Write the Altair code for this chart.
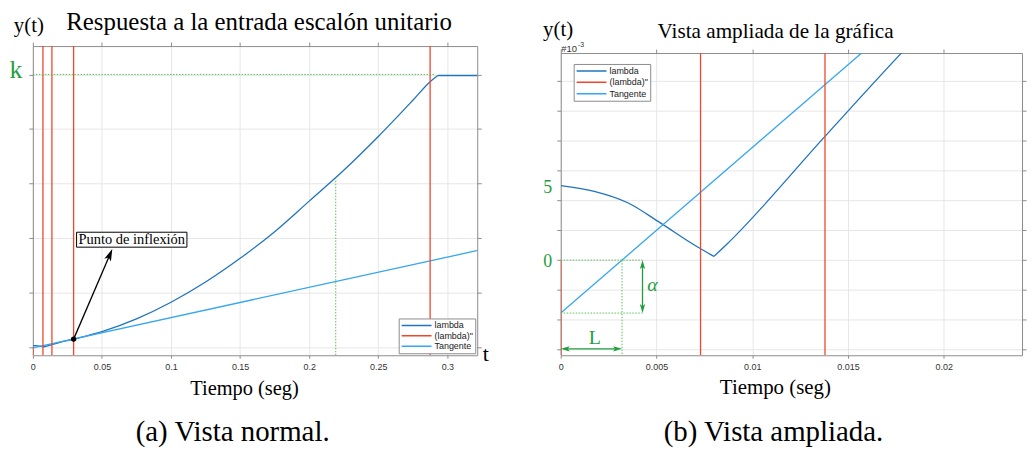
import altair as alt
import pandas as pd

# ---------------- data ----------------
lambda_t = [0.0, 0.0018, 0.0035, 0.0052, 0.0070, 0.0080, 0.0087, 0.0138, 0.0178,
            0.0295, 0.050, 0.075, 0.100, 0.125, 0.150, 0.175, 0.200,
            0.225, 0.250, 0.275, 0.2875, 0.2930, 0.3220]
lambda_y = [0.0050, 0.0046, 0.00385, 0.0025, 0.0010, 0.00025, 0.0011, 0.0083, 0.0139,
            0.0285, 0.056, 0.103, 0.164, 0.238, 0.325, 0.423, 0.535,
            0.648, 0.772, 0.905, 0.973, 0.996, 0.996]
lambda_corners = [0.0080, 0.2930]
tangent_t = [0.0, 0.322]
tangent_y = [-0.00355, 0.3539]
red_t = [0.0, 0.0073, 0.0138, 0.0295, 0.2875]
inflexion_t = [0.0295]
inflexion_y = [0.0285]
k_value = 1.0
t_marker = 0.2192
lambda_at_marker = 0.617
L_value = 0.0032
alpha_value = -0.00355
series = ["lambda", '(lambda)"', "Tangente"]
colors = ["#1f74c0", "#f2462a", "#35a6f0"]

ticks_a_x = [0, 0.05, 0.1, 0.15, 0.2, 0.25, 0.3]
ticks_a_y = [0, 0.2, 0.4, 0.6, 0.8, 1.0]
ticks_b_x = [0, 0.005, 0.01, 0.015, 0.02]
ticks_b_y = [-0.006, -0.004, -0.002, 0, 0.002, 0.004, 0.006, 0.008, 0.010, 0.012]

# ---------------- styles ----------------
GRID = "#e6e6e6"
FRAME = "#8c8c8c"
GREEN = "#1f9e3e"
GREEN_LINE = "#5cbf5c"
SERIF = "Liberation Serif"
SANS = "Liberation Sans"
HEAD = "M0,-1L0.6,1L0,0.55L-0.6,1Z"

color_scale = alt.Scale(domain=series, range=colors)

# lambda split at its corners so that the smooth interpolation keeps them sharp
_rows = []
for _t, _y in zip(lambda_t, lambda_y):
    _p = sum(_t > c for c in lambda_corners)
    _rows.append((_t, _y, series[0], _p))
    if _t in lambda_corners:
        _rows.append((_t, _y, series[0], _p + 1))
for _t, _y in zip(tangent_t, tangent_y):
    _rows.append((_t, _y, series[2], 0))
lines_df = pd.DataFrame(_rows, columns=["t", "y", "serie", "pieza"])


def one(t, y, **extra):
    d = {"t": [t], "y": [y]}
    d.update({k: [v] for k, v in extra.items()})
    return pd.DataFrame(d)


def enc(ch, xs, ys):
    return ch.encode(x=alt.X("t:Q", scale=xs, axis=None),
                     y=alt.Y("y:Q", scale=ys, axis=None))


def note(xs, ys, t, y, text, **kw):
    base = dict(font=SERIF, align="center", baseline="alphabetic", color="black")
    base.update(kw)
    return enc(alt.Chart(one(t, y)).mark_text(text=text, **base), xs, ys)


def seg(xs, ys, t1, y1, t2, y2, **kw):
    return alt.Chart(one(t1, y1, t2=t2, y2=y2)).mark_rule(**kw).encode(
        x=alt.X("t:Q", scale=xs, axis=None), y=alt.Y("y:Q", scale=ys, axis=None),
        x2="t2:Q", y2="y2:Q")


def head(xs, ys, t, y, angle, size, color):
    return enc(alt.Chart(one(t, y)).mark_point(shape=HEAD, angle=angle, size=size,
                                               filled=True, color=color, opacity=1,
                                               strokeWidth=0), xs, ys)


def base_layers(xdom, ydom, xticks, yticks, legend):
    xs = alt.Scale(domain=xdom, nice=False, zero=False)
    ys = alt.Scale(domain=ydom, nice=False, zero=False)
    red_df = pd.DataFrame({"t": red_t[1:], "serie": series[1]})
    red0_df = pd.DataFrame({"t": [red_t[0]], "y": [ydom[0]], "y2": [0.0], "serie": [series[1]]})

    axb = alt.Axis(orient="bottom", values=xticks, format="~g", title=None, grid=True,
                   gridColor=GRID, domainColor=FRAME, tickColor=FRAME, tickSize=3,
                   labelFont=SANS, labelFontSize=9, labelColor="#333", labelPadding=4,
                   labelFlush=False, labelOverlap=False)
    axl = alt.Axis(orient="left", values=yticks, title=None, grid=True, gridColor=GRID,
                   domainColor=FRAME, tickColor=FRAME, tickSize=4, labels=False)
    axt = alt.Axis(orient="top", values=xticks, title=None, grid=False,
                   domainColor=FRAME, tickColor=FRAME, tickSize=4, labels=False)
    axr = alt.Axis(orient="right", values=yticks, title=None, grid=False,
                   domainColor=FRAME, tickColor=FRAME, tickSize=4, labels=False)

    col = alt.Color("serie:N", scale=color_scale, legend=legend)

    frame_df = pd.DataFrame({"t": [xdom[0]], "y": [ydom[0]]})
    frame = alt.Chart(frame_df).mark_point(opacity=0, clip=True).encode(
        x=alt.X("t:Q", scale=xs, axis=axt), y=alt.Y("y:Q", scale=ys, axis=axr))
    reds = alt.Chart(red_df).mark_rule(strokeWidth=1.3, clip=True).encode(
        x=alt.X("t:Q", scale=xs, axis=None), color=col)
    red0 = alt.Chart(red0_df).mark_rule(strokeWidth=1.3, clip=True).encode(
        x=alt.X("t:Q", scale=xs, axis=None), y=alt.Y("y:Q", scale=ys, axis=None),
        y2="y2:Q", color=col)
    lines = alt.Chart(lines_df).mark_line(strokeWidth=1.3, clip=True,
                                          interpolate="monotone").encode(
        x=alt.X("t:Q", scale=xs, axis=axb), y=alt.Y("y:Q", scale=ys, axis=axl),
        color=col, detail="pieza:N")
    return xs, ys, [lines, frame, reds, red0]


legend_common = dict(title=None, orient="none", fillColor="white", strokeColor=FRAME,
                     padding=2, symbolType="stroke", symbolSize=900, symbolStrokeWidth=1.5,
                     clipHeight=10, labelFont=SANS, labelFontSize=9, labelColor="#222",
                     labelOffset=2, labelLimit=200)

# ---------------- panel (a) ----------------
W1, H1 = 447, 311
xdom_a = [0, 0.3216]
ydom_a = [-0.0307, 1.104]
xa, ya, layers_a = base_layers(xdom_a, ydom_a, ticks_a_x, ticks_a_y,
                               alt.Legend(legendX=368, legendY=274, rowPadding=0.5,
                                          **legend_common))
layers_a += [
    seg(xa, ya, 0, k_value, 0.2914, k_value, color=GREEN_LINE, strokeDash=[1.5, 1.5], strokeWidth=1),
    seg(xa, ya, t_marker, ydom_a[0], t_marker, lambda_at_marker, color=GREEN_LINE,
        strokeDash=[1.5, 1.5], strokeWidth=1),
    seg(xa, ya, inflexion_t[0], inflexion_y[0], 0.0558, 0.3387, color="black", strokeWidth=1.3),
    head(xa, ya, 0.0558, 0.3387, 23, 144, "black"),
    enc(alt.Chart(pd.DataFrame({"t": inflexion_t, "y": inflexion_y})).mark_circle(
        size=30, color="black", opacity=1), xa, ya),
    alt.Chart(one(0.03165, 0.4208, t2=0.1115, y2=0.366)).mark_rect(
        fill="white", stroke="black", strokeWidth=1).encode(
        x=alt.X("t:Q", scale=xa, axis=None), y=alt.Y("y:Q", scale=ya, axis=None),
        x2="t2:Q", y2="y2:Q"),
    note(xa, ya, 0.0716, 0.377, "Punto de inflexión", fontSize=14.5),
    note(xa, ya, 0.1637, 1.1635, "Respuesta a la entrada escalón unitario", fontSize=25),
    note(xa, ya, -0.0029, 1.157, "y(t)", fontSize=21),
    note(xa, ya, -0.0122, 0.9865, "k", fontSize=26, color=GREEN),
    note(xa, ya, 0.3277, -0.0536, "t", fontSize=22),
    note(xa, ya, 0.1532, -0.1777, "Tiempo (seg)", fontSize=20.5),
    note(xa, ya, 0.1446, -0.3456, "(a) Vista normal.", fontSize=29),
]
panel_a = alt.layer(*layers_a).resolve_axis(x="independent", y="independent").properties(
    width=W1, height=H1)

# ---------------- panel (b) ----------------
W2, H2 = 464, 304
xdom_b = [0, 0.02409]
ydom_b = [-0.00638, 0.01389]
# the legend of panel (b) is placed in the group that holds the 7px spacer above it
xb, yb, layers_b = base_layers(xdom_b, ydom_b, ticks_b_x, ticks_b_y,
                               alt.Legend(legendX=13, legendY=18, rowPadding=1.5,
                                          **legend_common))
dot = dict(color=GREEN_LINE, strokeDash=[1.5, 1.5], strokeWidth=1)
layers_b += [
    seg(xb, yb, 0, 0, 0.00427, 0, **dot),
    seg(xb, yb, 0, alpha_value, 0.00427, alpha_value, **dot),
    seg(xb, yb, L_value, 0, L_value, ydom_b[0], **dot),
    seg(xb, yb, 0.00427, -0.0003, 0.00427, alpha_value + 0.0003, color=GREEN, strokeWidth=1.3),
    head(xb, yb, 0.00427, -0.0003, 0, 81, GREEN),
    head(xb, yb, 0.00427, alpha_value + 0.0003, 180, 81, GREEN),
    seg(xb, yb, 0.000234, -0.00595, L_value - 0.000234, -0.00595, color=GREEN, strokeWidth=1.3),
    head(xb, yb, 0.000234, -0.00595, 270, 81, GREEN),
    head(xb, yb, L_value - 0.000234, -0.00595, 90, 81, GREEN),
    note(xb, yb, 0.01122, 0.01487, "Vista ampliada de la gráfica", fontSize=21.3),
    note(xb, yb, -0.00014, 0.0150, "y(t)", fontSize=21),
    note(xb, yb, 0.00003, 0.01393, "#10", font=SANS, fontSize=9.5, align="left", color="#333"),
    note(xb, yb, 0.0009, 0.01427, "-3", font=SANS, fontSize=7, align="left", color="#333"),
    note(xb, yb, -0.000685, 0.00453, "5", fontSize=18, color=GREEN),
    note(xb, yb, -0.000685, -0.00047, "0", fontSize=18, color=GREEN),
    note(xb, yb, 0.00479, -0.00207, "α", fontSize=20, fontStyle="italic", color=GREEN),
    note(xb, yb, 0.00178, -0.0056, "L", fontSize=20, color=GREEN),
    note(xb, yb, 0.01121, -0.0090, "Tiempo (seg)", fontSize=21),
    note(xb, yb, 0.01111, -0.01213, "(b) Vista ampliada.", fontSize=29),
]
panel_b = alt.layer(*layers_b).resolve_axis(x="independent", y="independent").properties(
    width=W2, height=H2)

spacer = alt.Chart(pd.DataFrame({"a": [0]})).mark_point(opacity=0).properties(width=W2, height=7)
right = alt.vconcat(spacer, panel_b, spacing=0, bounds="flush")

chart = alt.hconcat(panel_a, right, spacing=84, bounds="flush").resolve_scale(
    x="independent", y="independent", color="independent").resolve_legend(
    color="independent").properties(
    padding={"left": 1, "top": 0, "right": 0, "bottom": 0}).configure_view(stroke=None)

chart.save("out.html", embed_options={"renderer": "svg", "actions": False})
